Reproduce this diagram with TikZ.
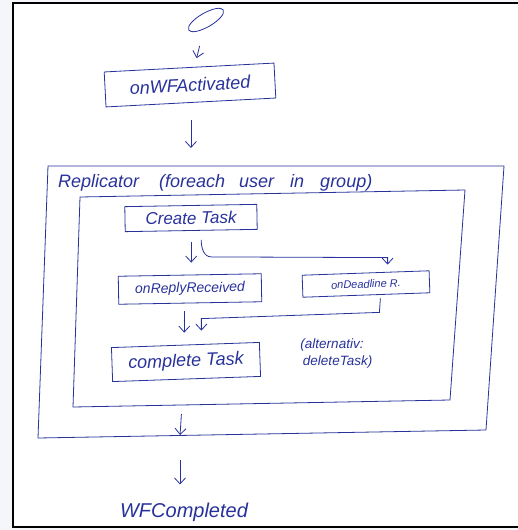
\documentclass[tikz,border=0pt]{standalone}
\usepackage{fontspec}
\setmainfont{Liberation Sans}
\usetikzlibrary{arrows.meta,calc,shapes.geometric}
\definecolor{ink}{RGB}{40,50,155}
\definecolor{paperside}{RGB}{244,246,250}
\begin{document}
\begin{tikzpicture}[x=1pt,y=-1pt,
  inkline/.style={draw=ink, line width=0.8pt},
  box/.style={inkline, rectangle, inner sep=0pt, text=ink},
  lbl/.style={text=ink, inner sep=0pt},
  arr/.style={inkline, -{Straight Barb[length=6pt,width=11pt]}},
  con/.style={inkline},
  big/.style={font=\fontsize{18}{20}\selectfont\itshape},
  huge/.style={font=\fontsize{20}{22}\selectfont\itshape},
  mid/.style={font=\fontsize{14}{16}\selectfont\itshape},
  small/.style={font=\fontsize{11}{14}\selectfont\itshape},
  alts/.style={font=\fontsize{13.5}{17}\selectfont\itshape}]
\useasboundingbox (0,0) rectangle (518,530);
\fill[paperside] (0,0) rectangle (518,530);
\fill[white] (12,2) rectangle (518,528);
\draw[black, line width=2.2pt] (518,3) -- (13,3) -- (13,527) -- (518,527);

% start
\node[box, ellipse, minimum width=40, minimum height=14, rotate=30] (start) at (206,20) {};
% onWFActivated
\node[box, big, minimum width=170, minimum height=35, rotate=3] (act) at (190,85) {onWFActivated};

% replicator outer box
\coordinate (repTL) at (48,166);
\coordinate (repTR) at (504,166);
\coordinate (repBR) at (486,430);
\coordinate (repBL) at (38,438);
\draw[con] (repTL) -- (repTR) -- (repBR) -- (repBL) -- cycle;
\node[lbl, big, anchor=west] (replbl) at (58,183) {Replicator\hspace{20pt}(foreach\hspace{14pt}user\hspace{16pt}in\hspace{16pt}group)};
\coordinate (repN) at (185,166);
\coordinate (repS) at (180,436);

% inner box
\coordinate (inTL) at (80,197);
\coordinate (inTR) at (465,190);
\coordinate (inBR) at (450,400);
\coordinate (inBL) at (73,407);
\draw[con] (inTL) -- (inTR) -- (inBR) -- (inBL) -- cycle;
\coordinate (inS) at (182,405);

% inner nodes
\node[box, font=\fontsize{17}{19}\selectfont\itshape, minimum width=132, minimum height=25, rotate=1] (create) at (191,218) {Create Task};
\node[box, mid, minimum width=143, minimum height=28, rotate=1] (reply) at (190,289) {onReplyReceived};
\node[box, small, minimum width=127, minimum height=22, rotate=2] (dead) at (366,284) {onDeadline R.};
\node[box, big, minimum width=148, minimum height=34, rotate=2] (complete) at (186,362) {complete Task};
\node[lbl, alts, align=center] (alt) at (332,354) {(alternativ:\\ \ \ \ deleteTask)};

% end
\node[lbl, huge] (done) at (184,512) {WFCompleted};

% connectors
\draw[arr, shorten <=17pt, shorten >=9pt] (start) -- (act);
\draw[arr, shorten <=17pt, shorten >=18pt] (act.south) -- (act.south |- repN);
\draw[arr, shorten <=11pt, shorten >=12pt] (create.south) -- (create.south |- reply.north);
\draw[arr] ($(create.south)+(10,9)$) to[out=-90,in=180] ($(create.south)+(20,26)$)
   -- ($(dead.north)+(22,-15)$) -- ($(dead.north)+(22,-8)$);
\draw[arr] ($(dead.south)+(14,3)$) -- ($(dead.south)+(13,17)$)
   -- ($(complete.north)+(16,-26)$) -- ($(complete.north)+(16,-14)$);
\draw[arr, shorten <=8pt, shorten >=12pt] ([xshift=-6pt]reply.south) -- ([xshift=-6pt]reply.south |- complete.north);
\draw[arr, shorten <=9pt, shorten >=1pt] (inS) -- (repS);
\draw[arr, shorten <=24pt, shorten >=18pt] (repS) -- (repS |- done.north);
\end{tikzpicture}
\end{document}
